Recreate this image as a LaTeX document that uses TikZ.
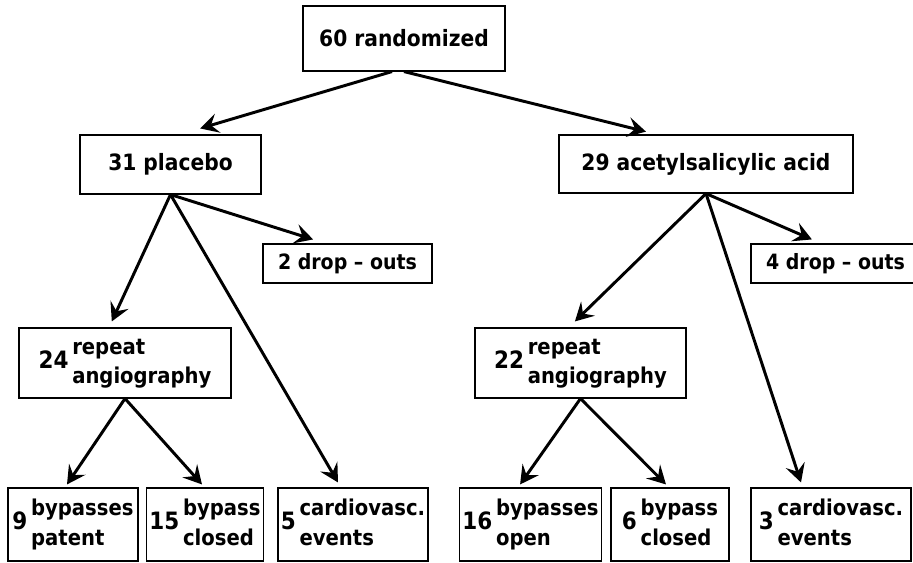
\documentclass[tikz,border=0pt]{standalone}
\usepackage{fontspec}
\setmainfont{DejaVu Sans Condensed Bold}
\usepackage{tikz}
\usetikzlibrary{arrows.meta}

\tikzset{
    box/.style={draw, line width=0.8pt, inner sep=2pt, font=\fontsize{16}{19}\selectfont},
    arr/.style={line width=2.1pt, -{Stealth[length=13pt, width=14pt, inset=5pt]}}
}
\newcommand{\countlabel}[3]{{\fontsize{17}{19}\selectfont #1}\,{\fontsize{15.5}{21}\selectfont\begin{tabular}[c]{@{}l@{}}#2\\#3\end{tabular}}}

\begin{document}
\begin{tikzpicture}
        \useasboundingbox (0, 0) rectangle (22.825, -14.05);
        \fill [white] (0, 0) rectangle (22.825, -14.05);
        \clip (0, 0) rectangle (22.825, -14.05);

        \node [box, minimum width=5.05cm, minimum height=1.625cm] (rand) at (10.1, -0.9625) {60 randomized};
        \node [box, minimum width=4.525cm, minimum height=1.475cm] (placebo) at (4.2625, -4.1125) {31 placebo};
        \node [box, minimum width=7.35cm, minimum height=1.45cm] (asa) at (17.65, -4.1) {29 acetylsalicylic acid};

        \node [box, minimum width=4.225cm, minimum height=0.975cm, font=\fontsize{15}{18}\selectfont] (drop2) at (8.6875, -6.5875) {2 drop -- outs};
        \node [box, minimum width=4.225cm, minimum height=0.975cm, font=\fontsize{15}{18}\selectfont] (drop4) at (20.8875, -6.5875) {4 drop -- outs};

        \node [box, minimum width=5.3cm, minimum height=1.75cm] (rep24) at (3.125, -9.075) {\countlabel{24}{repeat}{angiography}};
        \node [box, minimum width=5.275cm, minimum height=1.75cm] (rep22) at (14.5125, -9.075) {\countlabel{22}{repeat}{angiography}};

        \node [box, minimum width=3.25cm, minimum height=1.825cm] (b9) at (1.825, -13.1125) {\countlabel{9}{bypasses}{patent}};
        \node [box, minimum width=2.85cm, minimum height=1.825cm] (b15) at (5.125, -13.1125) {\countlabel{15}{bypass}{closed}};
        \node [box, minimum width=3.75cm, minimum height=1.825cm] (c5) at (8.825, -13.1125) {\countlabel{5}{cardiovasc.}{events}};
        \node [box, minimum width=3.525cm, minimum height=1.825cm] (b16) at (13.2625, -13.1125) {\countlabel{16}{bypasses}{open}};
        \node [box, minimum width=2.95cm, minimum height=1.825cm] (b6) at (16.75, -13.1125) {\countlabel{6}{bypass}{closed}};
        \node [box, minimum width=4.0cm, minimum height=1.825cm] (c3) at (20.775, -13.1125) {\countlabel{3}{cardiovasc.}{events}};

        \draw [arr] ([xshift=-0.3cm]rand.south) -- ([xshift=0.74cm, yshift=0.15cm]placebo.north);
        \draw [arr] (rand.south) -- ([xshift=-1.5cm, yshift=0.07cm]asa.north);

        \draw [arr] (placebo.south) -- ([xshift=-0.86cm, yshift=0.1cm]drop2.north);
        \draw [arr] (placebo.south) -- ([xshift=-0.33cm, yshift=0.15cm]rep24.north);
        \draw [arr] (placebo.south) -- ([xshift=-0.375cm, yshift=0.125cm]c5.north);

        \draw [arr] (asa.south) -- ([xshift=-0.59cm, yshift=0.1cm]drop4.north);
        \draw [arr] (asa.south) -- ([xshift=-0.14cm, yshift=0.15cm]rep22.north);
        \draw [arr] (asa.south) -- ([xshift=-0.75cm, yshift=0.125cm]c3.north);

        \draw [arr] (rep24.south) -- ([xshift=-0.15cm, yshift=0.075cm]b9.north);
        \draw [arr] (rep24.south) -- ([xshift=-0.075cm, yshift=0.075cm]b15.north);

        \draw [arr] (rep22.south) -- ([xshift=-0.26cm, yshift=0.075cm]b16.north);
        \draw [arr] (rep22.south) -- ([xshift=-0.1cm, yshift=0.075cm]b6.north);
    \end{tikzpicture}
\end{document}
